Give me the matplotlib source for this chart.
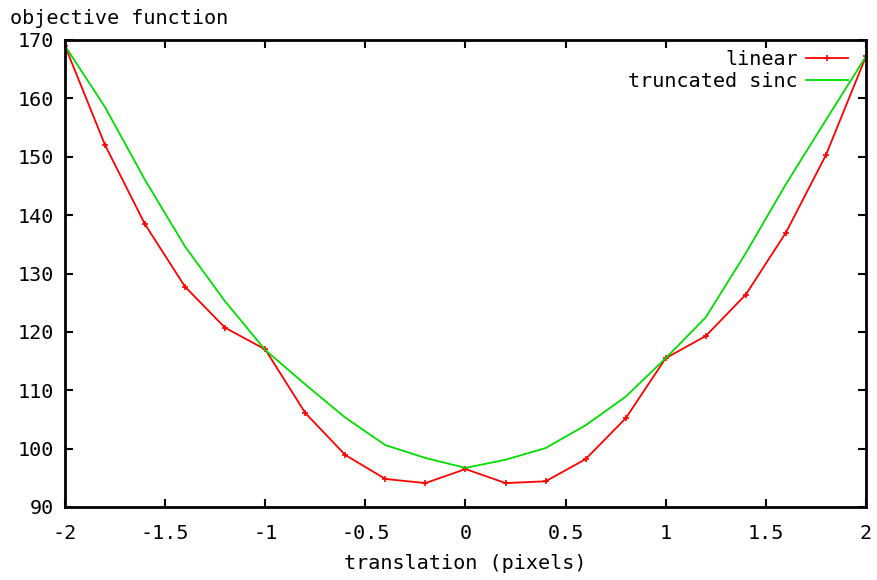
import matplotlib
matplotlib.use("Agg")
import matplotlib.pyplot as plt
from matplotlib.ticker import FuncFormatter

x = [-2.0, -1.8, -1.6, -1.4, -1.2, -1.0, -0.8, -0.6, -0.4, -0.2, 0.0,
     0.2, 0.4, 0.6, 0.8, 1.0, 1.2, 1.4, 1.6, 1.8, 2.0]
linear = [169.0, 152.0, 138.4, 127.7, 120.7, 117.0, 106.1, 98.9, 94.8, 94.1, 96.5,
          94.1, 94.4, 98.2, 105.2, 115.5, 119.3, 126.4, 137.0, 150.3, 167.2]
sinc = [169.0, 158.5, 146.0, 134.6, 125.2, 116.9, 111.0, 105.3, 100.6, 98.4, 96.7,
        98.1, 100.1, 104.0, 108.9, 115.5, 122.5, 133.5, 145.3, 156.3, 167.2]
xticks = [-2, -1.5, -1, -0.5, 0, 0.5, 1, 1.5, 2]
yticks = [90, 100, 110, 120, 130, 140, 150, 160, 170]

plt.rcParams['font.family'] = ['DejaVu Sans Mono']
fs = 14.5

fig = plt.figure(figsize=(8.78, 5.80), dpi=100)
ax = fig.add_axes([65/878, 1 - 507/580, 801/878, 467/580])

ax.plot(x, linear, color='#ff0000', lw=1.3, marker='+', ms=4, mew=1.2, label='linear')
ax.plot(x, sinc, color='#00dd00', lw=1.3, label='truncated sinc')

ax.set_xlim(-2, 2)
ax.set_ylim(90, 170)
ax.set_xticks(xticks)
ax.set_yticks(yticks)
ax.xaxis.set_major_formatter(FuncFormatter(lambda v, p: ('%g' % v)))
ax.tick_params(direction='in', length=6, width=1.5, top=True, right=True,
               labelsize=fs, colors='black')
ax.tick_params(axis='x', pad=12)
ax.tick_params(axis='y', pad=8)
for s in ax.spines.values():
    s.set_linewidth(2)

ax.set_xlabel('translation (pixels)', fontsize=fs, labelpad=8)
fig.text(10/878, 1 - 18/580, 'objective function', fontsize=fs, ha='left', va='center')

leg = ax.legend(loc='upper right', frameon=False, markerfirst=False, fontsize=fs,
                handlelength=2.1, handletextpad=0.4, labelspacing=0.15,
                borderaxespad=0.0, borderpad=0.0, bbox_to_anchor=(0.978, 0.978))

fig.savefig('out.png', dpi=100)
